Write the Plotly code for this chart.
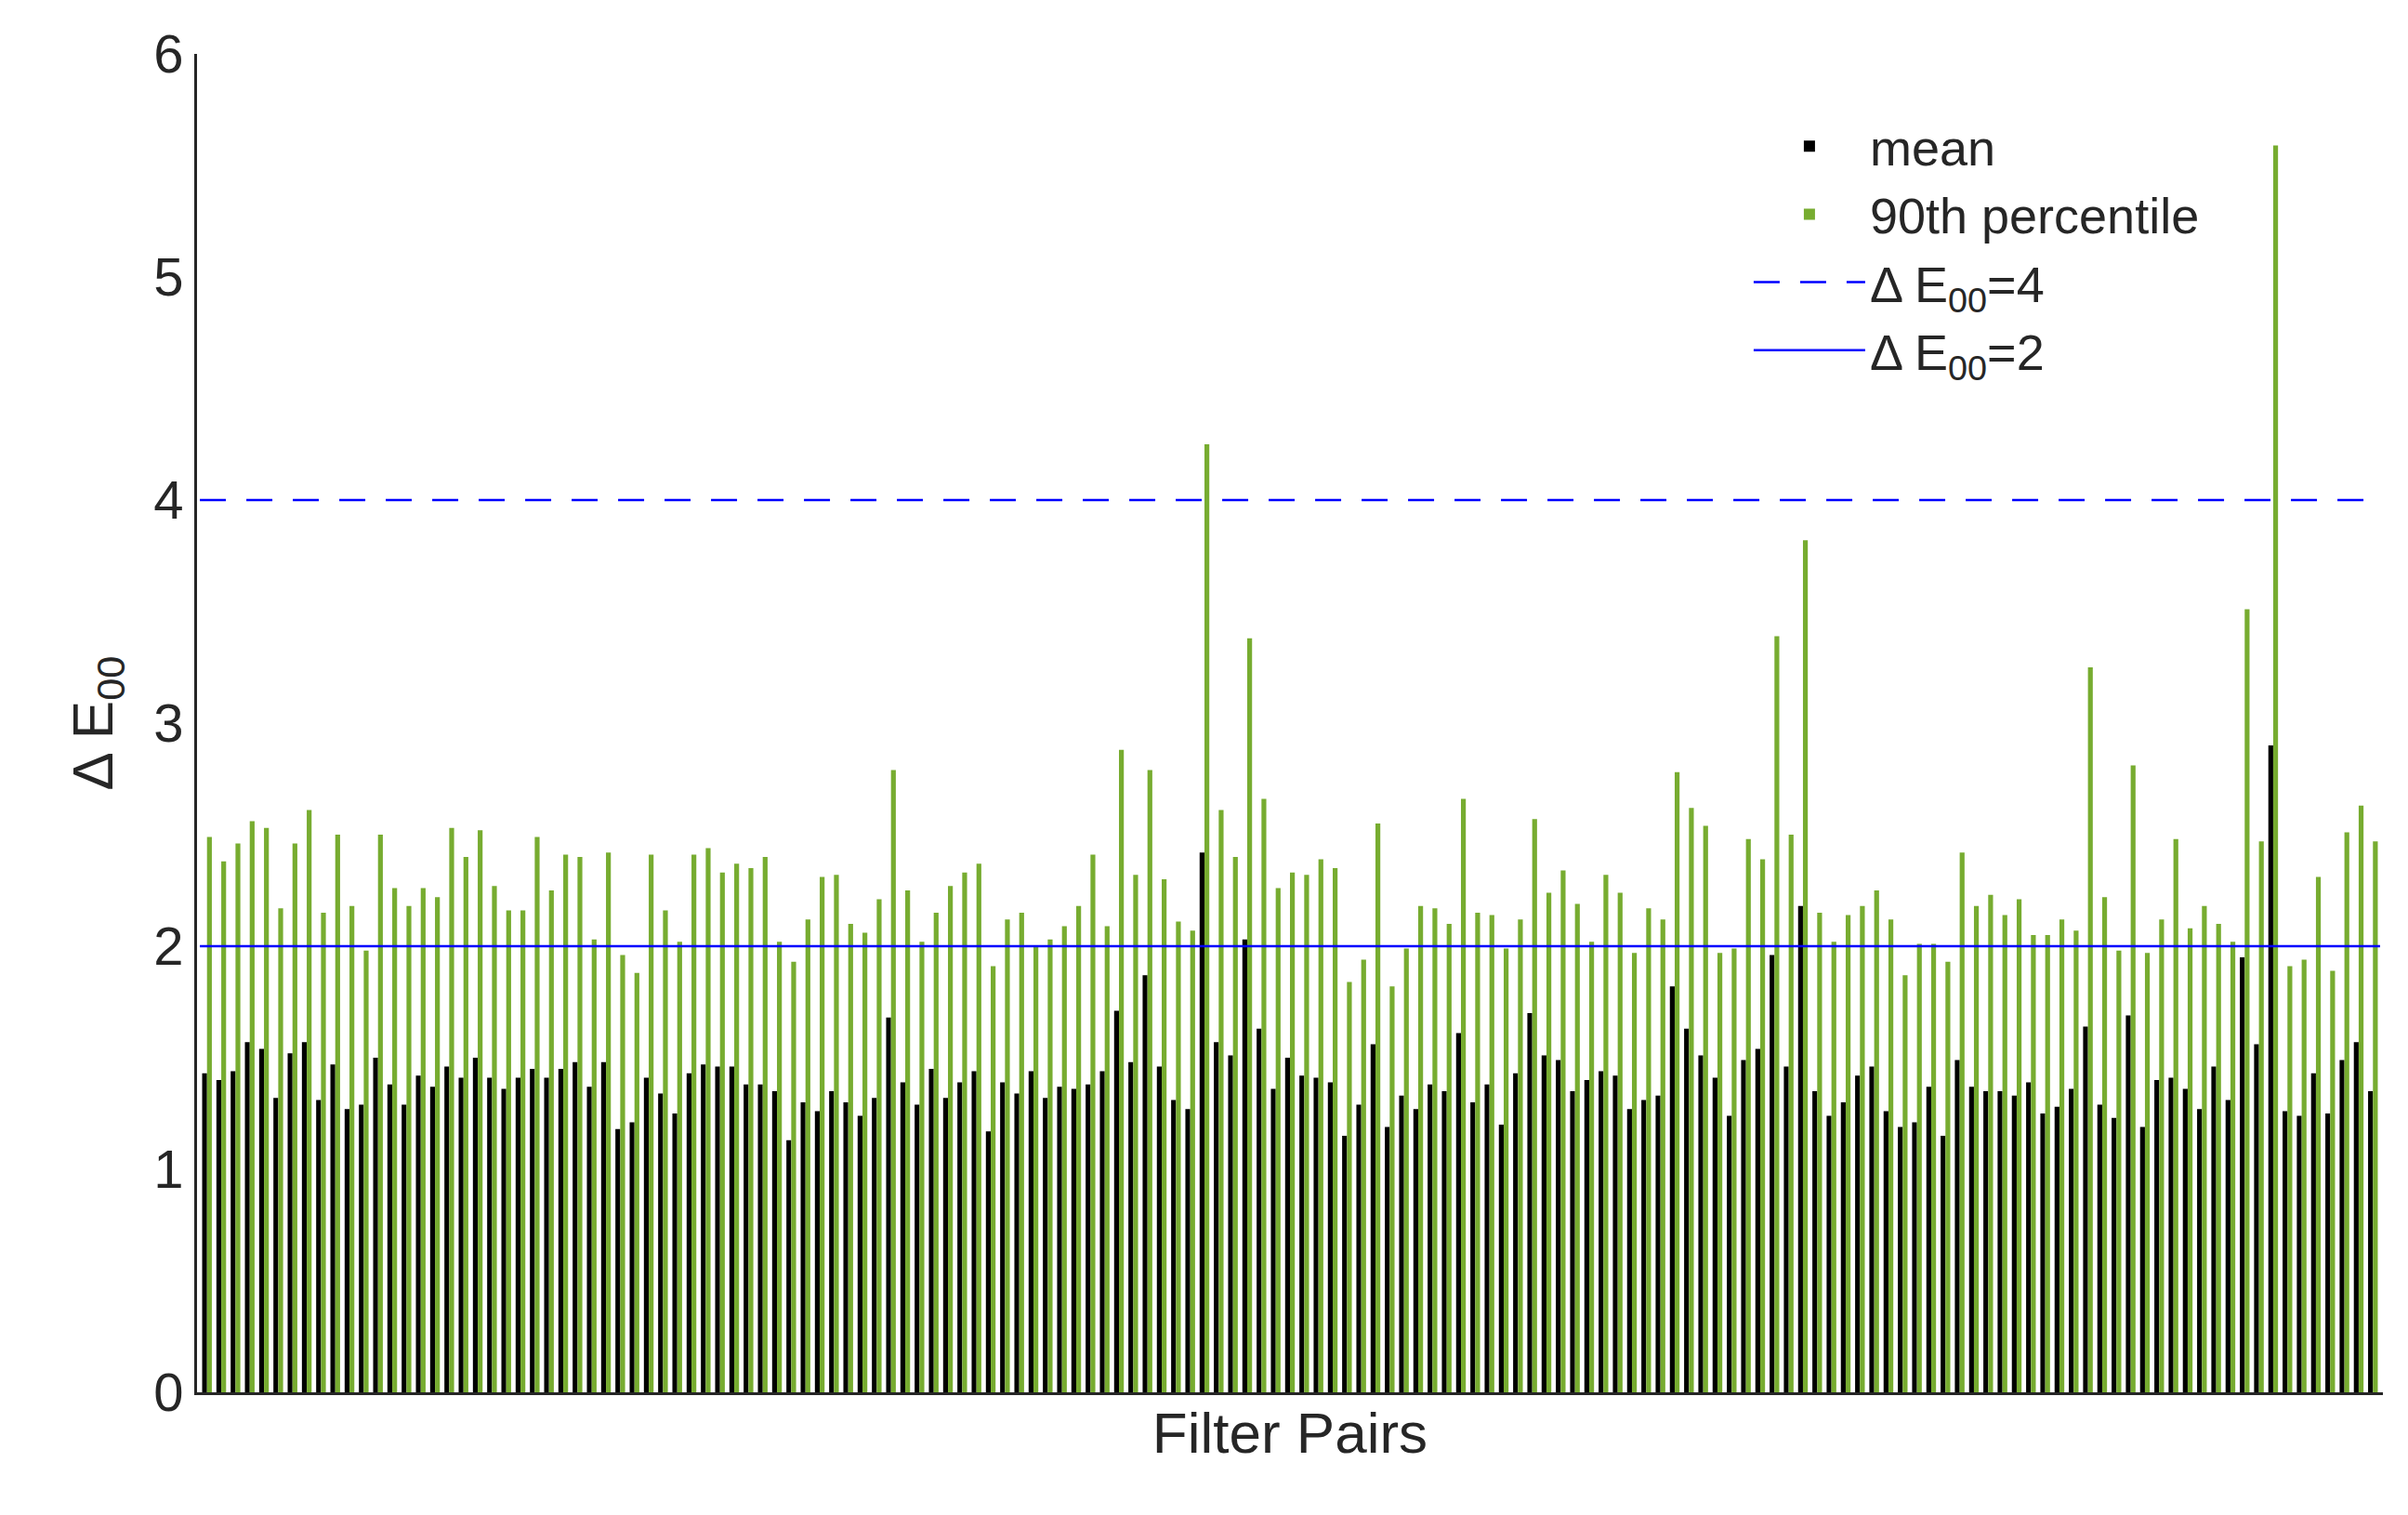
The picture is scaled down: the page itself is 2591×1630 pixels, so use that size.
import plotly.graph_objects as go

mean_vals = [1.43,1.40,1.44,1.57,1.54,1.32,1.52,1.57,1.31,1.47,1.27,1.29,1.50,1.38,1.29,1.42,1.37,1.46,1.41,1.50,
1.41,1.36,1.41,1.45,1.41,1.45,1.48,1.37,1.48,1.18,1.21,1.41,1.34,1.25,1.43,1.47,1.46,1.46,1.38,1.38,
1.35,1.13,1.30,1.26,1.35,1.30,1.24,1.32,1.68,1.39,1.29,1.45,1.32,1.39,1.44,1.17,1.39,1.34,1.44,1.32,
1.37,1.36,1.38,1.44,1.71,1.48,1.87,1.46,1.31,1.27,2.42,1.57,1.51,2.03,1.63,1.36,1.50,1.42,1.41,1.39,
1.15,1.29,1.56,1.19,1.33,1.27,1.38,1.35,1.61,1.30,1.38,1.20,1.43,1.70,1.51,1.49,1.35,1.40,1.44,1.42,
1.27,1.31,1.33,1.82,1.63,1.51,1.41,1.24,1.49,1.54,1.96,1.46,2.18,1.35,1.24,1.30,1.42,1.46,1.26,1.19,
1.21,1.37,1.15,1.49,1.37,1.35,1.35,1.33,1.39,1.25,1.28,1.36,1.64,1.29,1.23,1.69,1.19,1.40,1.41,1.36,
1.27,1.46,1.31,1.95,1.56,2.90,1.26,1.24,1.43,1.25,1.49,1.57,1.35]

p90_vals = [2.49,2.38,2.46,2.56,2.53,2.17,2.46,2.61,2.15,2.50,2.18,1.98,2.50,2.26,2.18,2.26,2.22,2.53,2.40,2.52,
2.27,2.16,2.16,2.49,2.25,2.41,2.40,2.03,2.42,1.96,1.88,2.41,2.16,2.02,2.41,2.44,2.33,2.37,2.35,2.40,
2.02,1.93,2.12,2.31,2.32,2.10,2.06,2.21,2.79,2.25,2.02,2.15,2.27,2.33,2.37,1.91,2.12,2.15,2.00,2.03,
2.09,2.18,2.41,2.09,2.88,2.32,2.79,2.30,2.11,2.07,4.25,2.61,2.40,3.38,2.66,2.26,2.33,2.32,2.39,2.35,
1.84,1.94,2.55,1.82,1.99,2.18,2.17,2.10,2.66,2.15,2.14,1.99,2.12,2.57,2.24,2.34,2.19,2.02,2.32,2.24,
1.97,2.17,2.12,2.78,2.62,2.54,1.97,1.99,2.48,2.39,3.39,2.50,3.82,2.15,2.02,2.14,2.18,2.25,2.12,1.87,
2.01,2.01,1.93,2.42,2.18,2.23,2.14,2.21,2.05,2.05,2.12,2.07,3.25,2.22,1.98,2.81,1.97,2.12,2.48,2.08,
2.18,2.10,2.02,3.51,2.47,5.59,1.91,1.94,2.31,1.89,2.51,2.63,2.47]

pairs = list(range(1, len(mean_vals) + 1))
thresholds = [4, 2]
threshold_names = ["Δ E<sub>00</sub>=4", "Δ E<sub>00</sub>=2"]
y_ticks = [0, 1, 2, 3, 4, 5, 6]

font = "Liberation Sans, Arial, sans-serif"
fig = go.Figure()
fig.add_trace(go.Bar(x=pairs, y=mean_vals, name="mean", marker=dict(color="black", line=dict(width=0))))
fig.add_trace(go.Bar(x=pairs, y=p90_vals, name="90th percentile", marker=dict(color="#77AC30", line=dict(width=0))))
xs = [pairs[0] - 0.5, pairs[-1] + 0.5]
for t, n, d in zip(thresholds, threshold_names, ["28px,22px", "solid"]):
    fig.add_trace(go.Scatter(x=xs, y=[t, t], mode="lines", name=n,
                             line=dict(color="#0000FF", width=2.5, dash=d)))

fig.update_layout(
    width=2591, height=1630, plot_bgcolor="white", paper_bgcolor="white",
    margin=dict(l=204, r=35, t=50, b=140),
    barmode="group", bargap=0.32, bargroupgap=0,
    font=dict(family=font, size=54, color="#262626"),
    showlegend=True,
    legend=dict(x=0.71, y=0.96, xanchor="left", yanchor="top", bgcolor="rgba(0,0,0,0)",
                font=dict(size=54, color="#262626"), tracegroupgap=0, itemwidth=120),
)
fig.update_xaxes(range=[0.3, 153.7], showticklabels=False, ticks="", showline=True,
                 linecolor="#262626", linewidth=3, showgrid=False, zeroline=False,
                 title=dict(text="Filter Pairs", font=dict(size=62), standoff=20))
fig.update_yaxes(range=[0, 6], tickvals=y_ticks, ticks="", showline=True, linecolor="#262626",
                 linewidth=3, showgrid=False, zeroline=False, tickfont=dict(size=58),
                 title=dict(text="Δ E<sub>00</sub>", font=dict(size=62), standoff=24))
fig.write_html("out.html")
